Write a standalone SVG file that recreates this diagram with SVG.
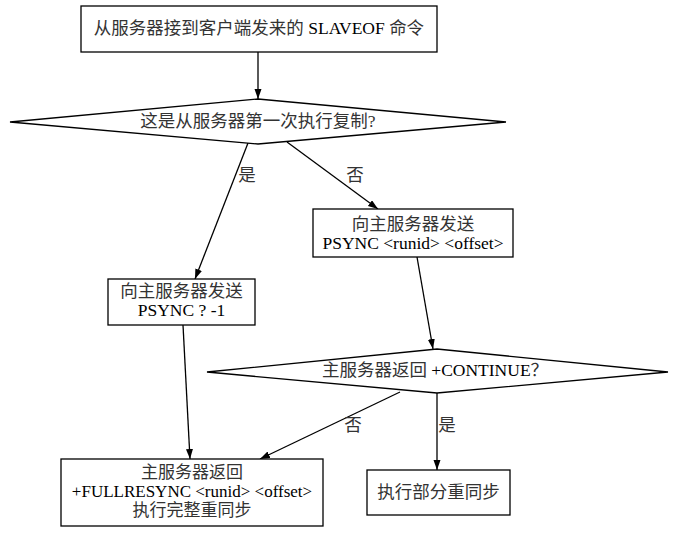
<svg xmlns="http://www.w3.org/2000/svg" width="683" height="536" viewBox="0 0 683 536">
<style>
.n{fill:#fff;stroke:#000;stroke-width:1.3}
.t{font-family:"Liberation Serif","Noto Sans CJK SC",serif;font-size:17.5px;fill:#333;text-anchor:middle}
.s{font-size:17px}
.l{fill:#000}
.e{stroke:#000;stroke-width:1.3;fill:none;marker-end:url(#a)}
</style>
<defs>
<marker id="a" markerUnits="userSpaceOnUse" markerWidth="11" markerHeight="8" refX="10" refY="3.5" orient="auto">
<path d="M0,0 L10,3.5 L0,7 z" fill="#000"/>
</marker>
</defs>
<rect width="683" height="536" fill="#fff"/>
<g id="connectors">
<line class="e" x1="258" y1="52" x2="258" y2="99"/>
<line class="e" x1="248" y1="143" x2="195" y2="279"/>
<line class="e" x1="287" y1="142" x2="378" y2="209"/>
<line class="e" x1="183" y1="325" x2="190" y2="459"/>
<line class="e" x1="417" y1="257" x2="433" y2="349"/>
<line class="e" x1="400" y1="392" x2="260" y2="459"/>
<line class="e" x1="437" y1="393" x2="437" y2="470"/>
<text class="t" x="247" y="181">是</text>
<text class="t" x="355" y="181">否</text>
<text class="t" x="353" y="431">否</text>
<text class="t" x="447" y="431">是</text>
</g>
<g id="start">
<rect class="n" x="81" y="6" width="356" height="46"/>
<text class="t" x="259" y="34">从服务器接到客户端发来的<tspan class="l"> SLAVEOF </tspan>命令</text>
</g>
<g id="first">
<polygon class="n" points="10,122 258,99 506,122 258,144"/>
<text class="t" x="258" y="127">这是从服务器第一次执行复制?</text>
</g>
<g id="psync-full">
<rect class="n" x="108" y="279" width="147" height="46"/>
<text class="t" x="181.5" y="297">向主服务器发送</text>
<text class="t l" x="181.5" y="316">PSYNC ? -1</text>
</g>
<g id="psync-partial">
<rect class="n" x="313" y="209" width="200" height="48"/>
<text class="t" x="413" y="230">向主服务器发送</text>
<text class="t l" x="413" y="249">PSYNC &lt;runid&gt; &lt;offset&gt;</text>
</g>
<g id="continue">
<polygon class="n" points="207,372 437,349 668,372 437,393"/>
<text class="t" x="435" y="376">主服务器返回<tspan class="l"> +CONTINUE</tspan>？</text>
</g>
<g id="fullresync">
<rect class="n" x="61" y="459" width="262" height="67"/>
<text class="t s" x="192" y="478">主服务器返回</text>
<text class="t s l" x="192" y="497">+FULLRESYNC &lt;runid&gt; &lt;offset&gt;</text>
<text class="t s" x="192" y="516">执行完整重同步</text>
</g>
<g id="partial">
<rect class="n" x="367" y="470" width="143" height="45"/>
<text class="t" x="438.5" y="498">执行部分重同步</text>
</g>
</svg>
